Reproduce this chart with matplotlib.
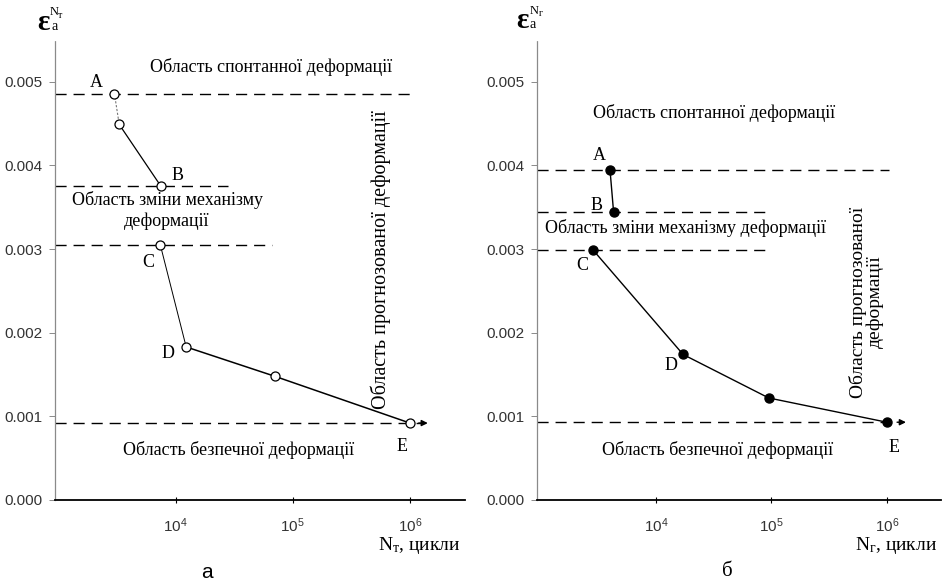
import matplotlib.pyplot as plt
from matplotlib.ticker import FixedLocator, FormatStrFormatter

plt.rcParams['mathtext.fontset'] = 'custom'
plt.rcParams['mathtext.rm'] = 'Liberation Serif'
plt.rcParams['mathtext.it'] = 'Liberation Serif:italic'

# panel a: points on the curve (open markers)
a_x = [3000, 3300, 7500, 7400, 12300, 70000, 1e6]
a_y = [0.00486, 0.00449, 0.00375, 0.00305, 0.00183, 0.00148, 0.00092]
a_names = ['A', '', 'B', 'C', 'D', '', 'E']

# panel b: points on the curve (filled markers)
b_x = [4000, 4300, 2850, 17200, 95000, 1e6]
b_y = [0.00395, 0.00344, 0.00299, 0.00174, 0.00122, 0.00093]
b_names = ['A', 'B', 'C', 'D', '', 'E']

# dashed boundary lines: level and right end
a_lvl = [0.00486, 0.00375, 0.00305, 0.00092]
a_end = [1.05e6, 2.8e4, 6.6e4, 1.5e6]
b_lvl = [0.00395, 0.00344, 0.00299, 0.00093]
b_end = [1.05e6, 1.0e5, 1.0e5, 1.55e6]

y_ticks = [0.000, 0.001, 0.002, 0.003, 0.004, 0.005]
x_ticks = [1e4, 1e5, 1e6]

fig = plt.figure(figsize=(9.48, 5.85), dpi=100)
serif = 'Liberation Serif'
W, H = 948, 585


def ftext(x, y, s, **kw):
    # place text using pixel coords measured from the top-left corner
    kw.setdefault('ha', 'center')
    kw.setdefault('va', 'center')
    kw.setdefault('family', serif)
    return fig.text(x / W, 1 - y / H, s, **kw)


def setup(ax):
    ax.set_xscale('log')
    ax.set_xlim(10**2.97, 10**6.47)
    ax.set_ylim(0, 0.0055)
    ax.spines['top'].set_visible(False)
    ax.spines['right'].set_visible(False)
    ax.spines['left'].set_color('#8a8a8a')
    ax.spines['left'].set_linewidth(0.9)
    ax.spines['left'].set_linestyle((0, (3, 1)))
    ax.spines['bottom'].set_linewidth(1.3)
    ax.yaxis.set_major_locator(FixedLocator(y_ticks))
    ax.yaxis.set_major_formatter(FormatStrFormatter('%.3f'))
    ax.xaxis.set_major_locator(FixedLocator(x_ticks))
    ax.xaxis.set_minor_locator(FixedLocator([]))
    ax.tick_params(axis='y', length=4, width=0.7, color='#8a8a8a', pad=5,
                   labelsize=11, labelcolor='#333333', labelfontfamily='Liberation Sans')
    ax.tick_params(axis='x', direction='inout', length=5, width=0.8, pad=9,
                   labelsize=11, labelcolor='#333333', labelfontfamily='Liberation Sans')
    ax.patch.set_visible(False)


def levels(ax, lvls, ends):
    for i, (lv, e) in enumerate(zip(lvls, ends)):
        if i == len(lvls) - 1:
            ax.plot([10**2.97, e * 0.9], [lv, lv], color='black', lw=1.0,
                    dashes=(8, 5), zorder=2)
            ax.annotate('', xy=(e, lv), xytext=(e * 0.75, lv),
                        arrowprops=dict(arrowstyle='-|>', color='black', lw=1.0,
                                        mutation_scale=9), zorder=2)
        else:
            ax.plot([10**2.97, e], [lv, lv], color='black', lw=1.0,
                    dashes=(8, 5), zorder=2)


# ---------------- panel a ----------------
ax1 = fig.add_axes([0.058, 0.1453, 0.4325, 0.7863])
setup(ax1)
levels(ax1, a_lvl, a_end)
ax1.plot(a_x[0:2], a_y[0:2], color='#777777', lw=0.8, ls=(0, (2, 1.5)), zorder=3)
ax1.plot(a_x[1:3], a_y[1:3], color='black', lw=0.9, zorder=3)
ax1.plot(a_x[3:5], a_y[3:5], color='black', lw=0.7, zorder=3)
ax1.plot(a_x[4:], a_y[4:], color='black', lw=1.1, zorder=3)
ax1.plot(a_x, a_y, ls='none', marker='o', ms=6.5, mfc='white', mec='black',
         mew=0.9, zorder=4)

a_off = {'A': (-13, 8), 'B': (12, 8), 'C': (-9, -13), 'D': (-13, -5), 'E': (-6, -17)}
for xv, yv, nm in zip(a_x, a_y, a_names):
    if nm:
        dx, dy = a_off[nm]
        ax1.annotate(nm, (xv, yv), xytext=(dx, dy), textcoords='offset points',
                     ha='center', va='center', fontsize=13, family=serif)

ftext(271, 67, 'Область спонтанної деформації', fontsize=13)
ftext(167, 200, 'Область зміни механізму', fontsize=13)
ftext(167, 221, 'деформації', fontsize=13)
ftext(239, 450, 'Область безпечної деформації', fontsize=13)
ftext(381, 260, 'Область прогнозованої деформації', rotation=90, fontsize=14.5)
ftext(460, 545, 'N$_\\mathrm{т}$, цикли', ha='right', fontsize=14)
ftext(43, 22, 'ε', fontsize=21, fontweight='bold')
ftext(54.5, 26, 'a', fontsize=10)
ftext(54, 12, 'N', fontsize=9)
ftext(60, 15, 'т', fontsize=7)
ftext(207, 573, 'а', fontsize=15, family='Liberation Sans')

# ---------------- panel b ----------------
ax2 = fig.add_axes([0.5665, 0.1453, 0.4261, 0.7863])
setup(ax2)
levels(ax2, b_lvl, b_end)
ax2.plot(b_x[0:2], b_y[0:2], color='black', lw=1.0, zorder=3)
ax2.plot(b_x[2:], b_y[2:], color='black', lw=1.0, zorder=3)
ax2.plot(b_x, b_y, ls='none', marker='o', ms=6.5, mfc='black', mec='black',
         zorder=4)

b_off = {'A': (-8, 10), 'B': (-12, 5), 'C': (-8, -11), 'D': (-9, -8), 'E': (5, -18)}
for xv, yv, nm in zip(b_x, b_y, b_names):
    if nm:
        dx, dy = b_off[nm]
        ax2.annotate(nm, (xv, yv), xytext=(dx, dy), textcoords='offset points',
                     ha='center', va='center', fontsize=13, family=serif)

ftext(714, 113, 'Область спонтанної деформації', fontsize=13)
ftext(686, 228, 'Область зміни механізму деформації', fontsize=13)
ftext(718, 450, 'Область безпечної деформації', fontsize=13)
ftext(866, 302, 'Область прогнозованої\nдеформації', rotation=90, fontsize=14,
      linespacing=0.95)
ftext(937, 545, 'N$_\\mathrm{г}$, цикли', ha='right', fontsize=14)
ftext(522, 21, 'ε', fontsize=21, fontweight='bold')
ftext(533, 25, 'a', fontsize=10)
ftext(534, 11, 'N', fontsize=9)
ftext(541, 14, 'г', fontsize=7)
ftext(727, 571, 'б', fontsize=15)

fig.savefig('out.png', dpi=100)
